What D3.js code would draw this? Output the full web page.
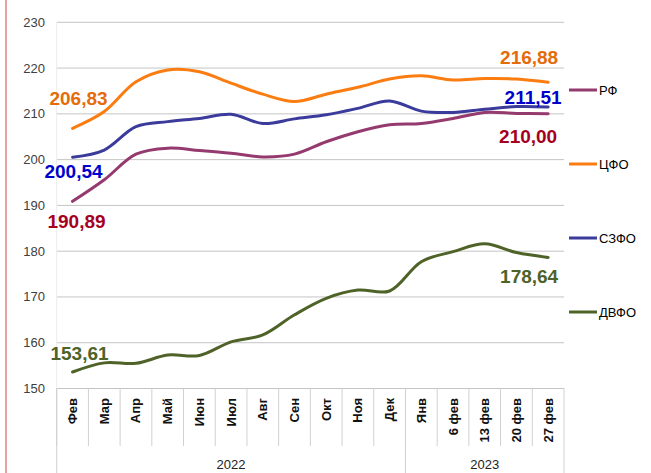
<!DOCTYPE html>
<html>
<head>
<meta charset="utf-8">
<script src="https://cdn.jsdelivr.net/npm/d3@7"></script>
<style>
  body { margin: 0; background: #fff; }
  svg { display: block; font-family: "Liberation Sans", Arial, sans-serif; }
</style>
</head>
<body>
<script>
// categories (months, then weeks of Feb 2023)
var months = ["Фев", "Мар", "Апр", "Май", "Июн", "Июл", "Авг", "Сен", "Окт", "Ноя", "Дек",
              "Янв", "6 фев", "13 фев", "20 фев", "27 фев"];
var years = [["2022", 0, 11], ["2023", 11, 16]]; // label, first index, end index

var rf   = [190.89, 195.6, 201.2, 202.5, 202.0, 201.4, 200.6, 201.2, 203.9, 206.1, 207.6, 207.9, 209.0, 210.3, 210.1, 210.00];
var cfo  = [206.83, 210.5, 217.0, 219.6, 219.2, 216.7, 214.3, 212.7, 214.3, 215.8, 217.6, 218.3, 217.4, 217.7, 217.6, 216.88];
var szfo = [200.54, 202.1, 207.2, 208.3, 209.0, 209.9, 207.9, 208.9, 209.8, 211.2, 212.8, 210.6, 210.3, 211.0, 211.6, 211.51];
var dvfo = [153.61, 155.6, 155.5, 157.3, 157.2, 160.2, 161.7, 166.1, 169.7, 171.5, 171.3, 177.7, 179.9, 181.6, 179.7, 178.64];

var yTicks = [150, 160, 170, 180, 190, 200, 210, 220, 230];

var series = [
  {name: "РФ",   values: rf,   color: "#953a6e", lab: "#a50021", first: [4, 27],  last: [-20, 29]},
  {name: "ЦФО",  values: cfo,  color: "#fb7d12", lab: "#e46c0a", first: [6, -23], last: [-19, -18]},
  {name: "СЗФО", values: szfo, color: "#3b3b9c", lab: "#0000cc", first: [1, 21],  last: [-15, -3]},
  {name: "ДВФО", values: dvfo, color: "#4f6228", lab: "#4f6228", first: [7, -12], last: [-19, 26]}
];
var legendY = [90, 164, 238, 312];

var width = 651, height = 473;
var svg = d3.select("body").append("svg")
    .attr("width", width)
    .attr("height", height);

// pink border on the left
svg.append("line")
    .attr("x1", 6).attr("x2", 6).attr("y1", 0).attr("y2", height)
    .attr("stroke", "#e8a2a2").attr("stroke-width", 2);

var x = d3.scaleBand().domain(months).range([56.7, 564]);
var y = d3.scaleLinear().domain([150, 230]).range([388.5, 22.3]);
var cx = function(i) { return x(months[i]) + x.bandwidth() / 2; };

// grid + y labels
svg.append("g").selectAll("line").data(yTicks).enter().append("line")
    .attr("x1", 56.7).attr("x2", 564)
    .attr("y1", d => y(d)).attr("y2", d => y(d))
    .attr("stroke", "#c4c4c4").attr("stroke-width", 1);

svg.append("line") // faint value axis
    .attr("x1", 56.7).attr("x2", 56.7).attr("y1", y(230)).attr("y2", y(150))
    .attr("stroke", "#ececec");

svg.append("g").selectAll("text").data(yTicks).enter().append("text")
    .attr("x", 45).attr("y", d => y(d) + 4.5)
    .attr("text-anchor", "end")
    .attr("font-size", "13px").attr("fill", "#404040")
    .text(d => d);

// category axis with two levels
var ax = svg.append("g");
ax.selectAll("line.tick").data(months).enter().append("line")
    .attr("class", "tick")
    .attr("x1", d => x(d)).attr("x2", d => x(d))
    .attr("y1", 388.5).attr("y2", 446)
    .attr("stroke", "#d0d0d0");
ax.append("line")
    .attr("x1", 564).attr("x2", 564).attr("y1", 388.5).attr("y2", height)
    .attr("stroke", "#d0d0d0");
ax.selectAll("line.grp").data(years).enter().append("line")
    .attr("class", "grp")
    .attr("x1", d => x(months[d[1]])).attr("x2", d => x(months[d[1]]))
    .attr("y1", 388.5).attr("y2", height)
    .attr("stroke", "#d0d0d0");

ax.selectAll("text.m").data(months).enter().append("text")
    .attr("class", "m")
    .attr("transform", (d, i) => "translate(" + (cx(i) + 4.5) + ",398) rotate(-90)")
    .attr("text-anchor", "end")
    .attr("font-size", "13px").attr("font-weight", "bold").attr("fill", "#111")
    .text(d => d);

ax.selectAll("text.yr").data(years).enter().append("text")
    .attr("class", "yr")
    .attr("x", d => (x(months[d[1]]) + x(months[d[2] - 1]) + x.bandwidth()) / 2)
    .attr("y", 469)
    .attr("text-anchor", "middle")
    .attr("font-size", "13px").attr("fill", "#222")
    .text(d => d[0]);

// lines
var line = d3.line()
    .x((d, i) => cx(i))
    .y(d => y(d))
    .curve(d3.curveCatmullRom.alpha(0.5));

svg.append("g").selectAll("path").data(series).enter().append("path")
    .attr("d", d => line(d.values))
    .attr("fill", "none")
    .attr("stroke", d => d.color)
    .attr("stroke-width", 3)
    .attr("stroke-linecap", "round");

// first / last value labels
var fmt = function(v) { return v.toFixed(2).replace(".", ","); };
var labels = svg.append("g");
series.forEach(function(s) {
    var n = s.values.length - 1;
    labels.append("text")
        .attr("x", cx(0) + s.first[0]).attr("y", y(s.values[0]) + s.first[1])
        .attr("text-anchor", "middle")
        .attr("font-size", "19px").attr("font-weight", "bold").attr("fill", s.lab)
        .text(fmt(s.values[0]));
    labels.append("text")
        .attr("x", cx(n) + s.last[0]).attr("y", y(s.values[n]) + s.last[1])
        .attr("text-anchor", "middle")
        .attr("font-size", "19px").attr("font-weight", "bold").attr("fill", s.lab)
        .text(fmt(s.values[n]));
});

// legend
var leg = svg.append("g").selectAll("g").data(series).enter().append("g")
    .attr("transform", (d, i) => "translate(569," + legendY[i] + ")");
leg.append("line")
    .attr("x1", 0).attr("x2", 28)
    .attr("stroke", d => d.color).attr("stroke-width", 3);
leg.append("text")
    .attr("x", 30).attr("y", 5)
    .attr("font-size", "13px").attr("fill", "#000")
    .text(d => d.name);
</script>
</body>
</html>
